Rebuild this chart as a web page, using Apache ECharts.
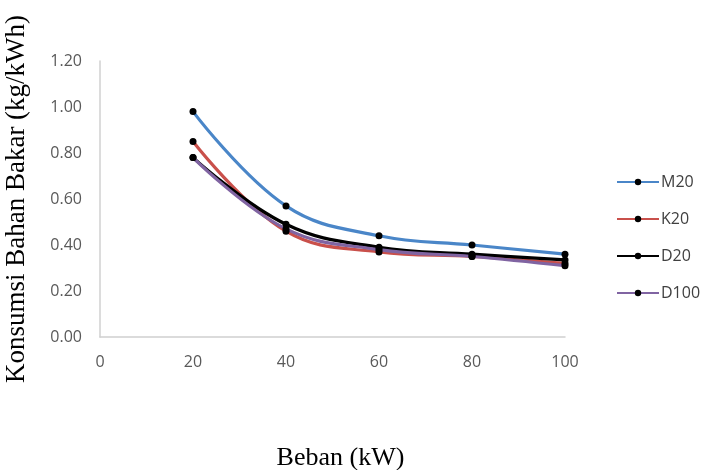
<!DOCTYPE html>
<html><head><meta charset="utf-8">
<script src="https://cdn.jsdelivr.net/npm/echarts@6/dist/echarts.min.js"></script>
<style>html,body{margin:0;padding:0;background:#fff}#c{width:702px;height:470px}</style>
</head><body><div id="c"></div>
<script>
const beban = [20, 40, 60, 80, 100];
const m20 = [0.98, 0.57, 0.44, 0.40, 0.36];
const k20 = [0.85, 0.46, 0.37, 0.35, 0.32];
const d20 = [0.78, 0.49, 0.39, 0.36, 0.335];
const d100 = [0.78, 0.47, 0.38, 0.35, 0.31];
const names = ['M20', 'K20', 'D20', 'D100'];
const colors = ['#4a86c8', '#c9504b', '#000000', '#8064a2'];
const values = [m20, k20, d20, d100];

const chart = echarts.init(document.getElementById('c'), null, {renderer: 'canvas'});
const lab = {color: '#595959', fontFamily: 'Open Sans', fontSize: 16};
chart.setOption({
  animation: false,
  grid: {left: 100, top: 61, right: 137, bottom: 133, containLabel: false, outerBoundsMode: 'none'},
  legend: {
    orient: 'vertical', left: 611, top: 166, itemGap: 15,
    itemWidth: 42, itemHeight: 8,
    textStyle: {color: '#404040', fontFamily: 'Open Sans', fontSize: 16, lineHeight: 22, padding: [0, 0, 0, -3]},
    data: names
  },
  xAxis: {
    type: 'value', min: 0, max: 100, interval: 20,
    name: 'Beban (kW)', nameLocation: 'middle', nameGap: 108,
    nameTextStyle: {fontFamily: 'Liberation Serif', fontSize: 26, color: '#000', padding: [0, 0, 0, 16]},
    axisLine: {lineStyle: {color: '#d0d0d0', width: 1.5}},
    axisTick: {show: false}, splitLine: {show: false},
    axisLabel: Object.assign({margin: 17}, lab)
  },
  yAxis: {
    type: 'value', min: 0, max: 1.2, interval: 0.2,
    name: 'Konsumsi Bahan Bakar (kg/kWh)', nameLocation: 'middle', nameGap: 70,
    nameTextStyle: {fontFamily: 'Liberation Serif', fontSize: 27, color: '#000'},
    axisLine: {show: true, lineStyle: {color: '#d0d0d0', width: 1.5}},
    axisTick: {show: false}, splitLine: {show: false},
    axisLabel: Object.assign({margin: 18, formatter: v => v.toFixed(2)}, lab)
  },
  series: names.map((n, i) => ({
    name: n, type: 'line', smooth: 0.4,
    data: beban.map((x, j) => [x, values[i][j]]),
    symbol: 'circle', symbolSize: 7,
    lineStyle: {color: colors[i], width: 3.2},
    itemStyle: {color: '#000', borderWidth: 0},
    color: colors[i]
  }))
});
</script></body></html>
